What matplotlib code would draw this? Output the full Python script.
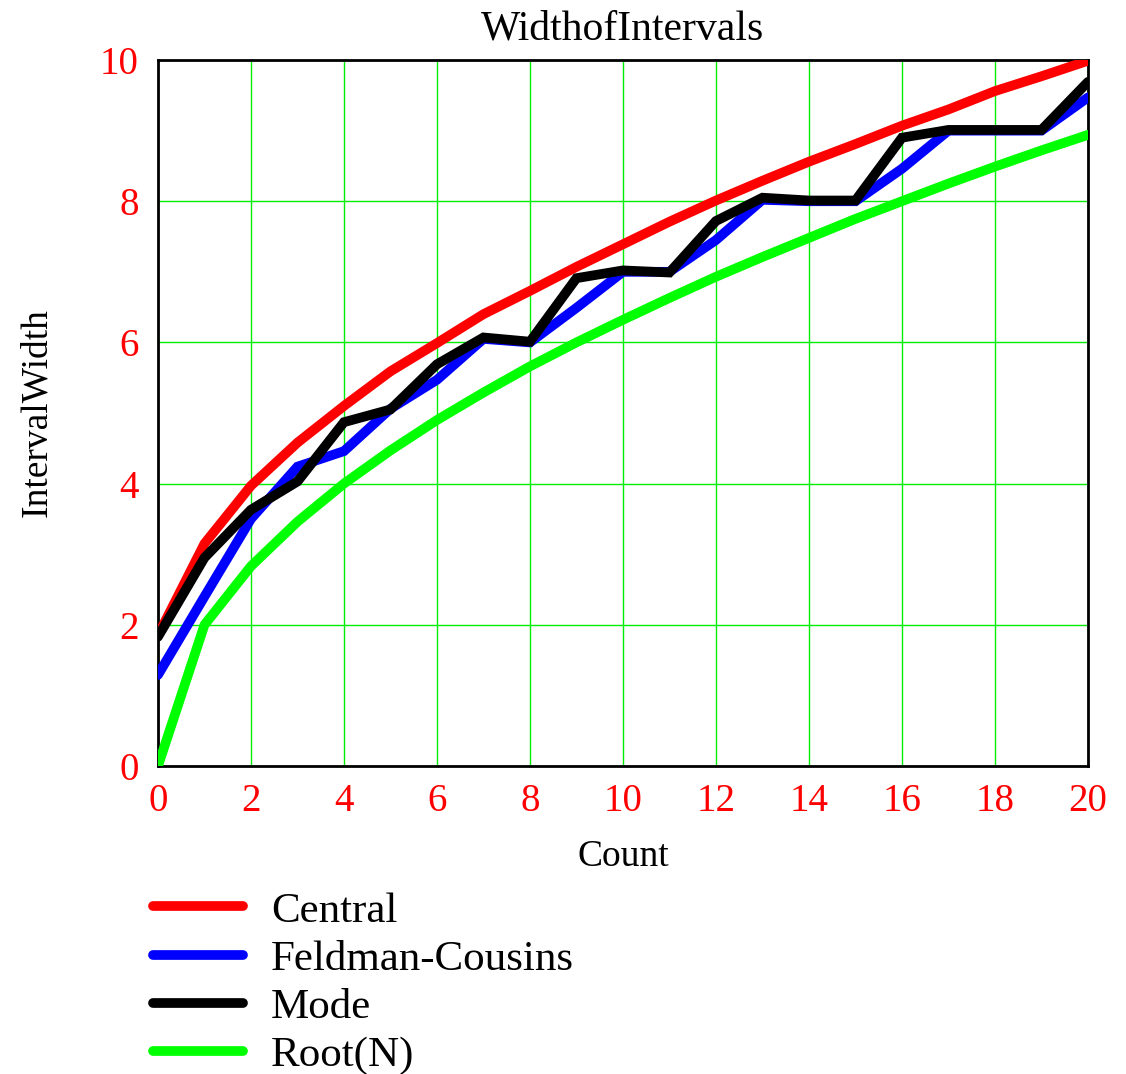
import matplotlib
matplotlib.use("Agg")
import matplotlib.pyplot as plt

# Interval widths, counts 0..20
count = list(range(21))
central = [1.85, 3.15, 3.97, 4.58, 5.10, 5.59, 5.99, 6.40, 6.73, 7.07, 7.39,
           7.71, 8.01, 8.29, 8.56, 8.81, 9.07, 9.30, 9.56, 9.77, 9.99]
feldman_cousins = [1.29, 2.40, 3.50, 4.24, 4.46, 5.06, 5.47, 6.05, 6.00, 6.49, 7.00,
                   7.00, 7.45, 8.02, 8.00, 8.00, 8.46, 9.00, 9.00, 9.00, 9.47]
mode = [1.83, 2.95, 3.63, 4.03, 4.87, 5.05, 5.69, 6.07, 6.01, 6.91, 7.02,
        6.99, 7.72, 8.05, 8.01, 8.01, 8.90, 9.01, 9.01, 9.01, 9.69]
root_n = [0.00, 2.00, 2.83, 3.46, 4.00, 4.47, 4.90, 5.29, 5.66, 6.00, 6.32,
          6.63, 6.93, 7.21, 7.48, 7.75, 8.00, 8.25, 8.49, 8.72, 8.94]

x_ticks = [0, 2, 4, 6, 8, 10, 12, 14, 16, 18, 20]
y_ticks = [0, 2, 4, 6, 8, 10]

plt.rcParams["font.family"] = ["Liberation Serif", "DejaVu Serif"]

fig = plt.figure(figsize=(11.26, 10.74), dpi=100)
ax = fig.add_axes([0.1403, 0.2868, 0.8259, 0.6573])

series = [
    (central, "#ff0000", "Central"),
    (feldman_cousins, "#0000ff", "Feldman-Cousins"),
    (mode, "#000000", "Mode"),
    (root_n, "#00ff00", "Root(N)"),
]
for values, color, label in series:
    ax.plot(count, values, color=color, lw=7, label=label,
            solid_capstyle="round", solid_joinstyle="miter", zorder=3)

ax.set_xlim(0, 20)
ax.set_ylim(0, 10)
ax.set_xticks(x_ticks)
ax.set_yticks(y_ticks)
ax.grid(True, color="#00ee00", lw=1.0, zorder=1)
ax.set_axisbelow(True)
ax.tick_params(length=0, labelsize=28, labelcolor="#ff0000")
ax.tick_params(axis="x", pad=12)
ax.tick_params(axis="y", pad=14)
for spine in ax.spines.values():
    spine.set_color("black")
    spine.set_linewidth(2)

ax.set_title("WidthofIntervals", fontsize=30, pad=14.5)
ax.set_xlabel("Count", fontsize=27, labelpad=14)
ax.set_ylabel("IntervalWidth", fontsize=27, labelpad=33)

handles, labels = ax.get_legend_handles_labels()
fig.legend(handles, labels, loc="upper left", bbox_to_anchor=(0.1357, 0.170),
           frameon=False, fontsize=31, handlelength=2.1, handletextpad=0.65,
           labelspacing=0.21, borderaxespad=0, borderpad=0)

fig.savefig("out.png", dpi=100, facecolor="white")
